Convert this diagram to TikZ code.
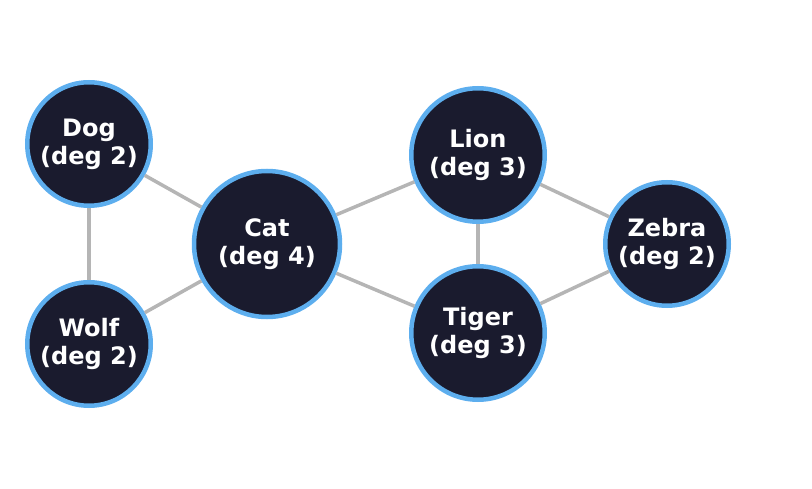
\documentclass[tikz,border=0pt]{standalone}
\usepackage{fontspec}
\setmainfont{DejaVu Sans}
\definecolor{nodefill}{HTML}{1A1B2E}
\definecolor{nodeborder}{HTML}{5DAEEE}
\definecolor{edgegray}{HTML}{B5B5B5}
\tikzset{
  animal/.style={circle, draw=nodeborder, fill=nodefill, line width=4.5pt, inner sep=0pt,
    text=white, align=center, font=\fontsize{24}{28}\selectfont\bfseries},
  small/.style={animal, minimum size=123.5pt},
  mid/.style={animal, minimum size=133.5pt},
  big/.style={animal, minimum size=146pt},
  link/.style={draw=edgegray, line width=3.5pt}
}
\begin{document}
\begin{tikzpicture}[x=1pt,y=-1pt]
\useasboundingbox (0,0) rectangle (812,489);
\node[small] (dog) at (89,144) {Dog\\(deg 2)};
\node[small] (wolf) at (89,344) {Wolf\\(deg 2)};
\node[big] (cat) at (267,244) {Cat\\(deg 4)};
\node[mid] (lion) at (478,155) {Lion\\(deg 3)};
\node[mid] (tiger) at (478,333) {Tiger\\(deg 3)};
\node[small] (zebra) at (667,244) {Zebra\\(deg 2)};
\draw[link] (dog) -- (cat);
\draw[link] (dog) -- (wolf);
\draw[link] (wolf) -- (cat);
\draw[link] (cat) -- (lion);
\draw[link] (cat) -- (tiger);
\draw[link] (lion) -- (tiger);
\draw[link] (lion) -- (zebra);
\draw[link] (tiger) -- (zebra);
\end{tikzpicture}
\end{document}
